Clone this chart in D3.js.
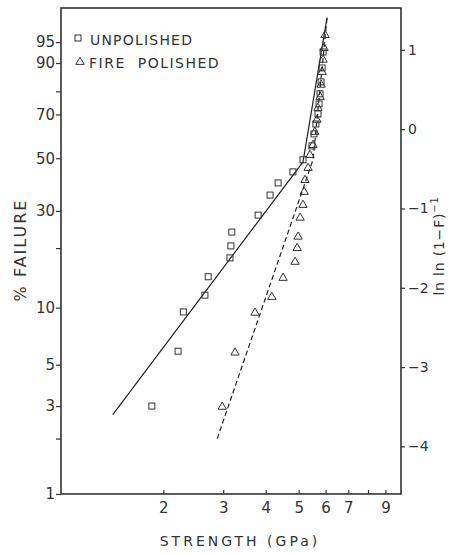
<!DOCTYPE html>
<html>
<head>
<meta charset="utf-8">
<script src="https://cdn.jsdelivr.net/npm/d3@7"></script>
<style>
    body { margin: 0; background: #fff; }
    text { font-family: "DejaVu Sans", sans-serif; fill: #333; }
    .axis line { stroke: #333; stroke-width: 1.2; }
    .axis path { display: none; }
</style>
</head>
<body>
<div id="chart-container"></div>
<script>
// data (strength in GPa, failure in %)
const unpolishedStrength = [1.85, 2.21, 2.29, 2.65, 2.71, 3.14, 3.16, 3.18, 3.80, 4.12, 4.35, 4.81, 5.15,
    5.47, 5.55, 5.62, 5.70, 5.74, 5.78, 5.82, 5.86, 5.90];
const unpolishedFailure = [3.0, 5.9, 9.5, 11.6, 14.4, 17.9, 20.5, 23.9, 28.7, 35.3, 39.8, 44.2, 49.3,
    55.5, 61.0, 65.6, 70.2, 74.7, 79.0, 83.7, 88.5, 92.9];

const firePolishedStrength = [2.98, 3.25, 3.72, 4.17, 4.50, 4.88, 4.95, 4.98, 5.05, 5.15, 5.19, 5.22, 5.33,
    5.40, 5.51, 5.58, 5.66, 5.70, 5.78, 5.82, 5.86, 5.90, 5.94, 5.98];
const firePolishedFailure = [2.97, 5.8, 9.4, 11.35, 14.2, 17.1, 20.0, 22.7, 27.9, 31.9, 36.4, 40.9, 45.8,
    51.4, 55.9, 61.9, 67.5, 72.9, 77.7, 82.6, 87.2, 90.9, 93.8, 96.2];

// fitted lines
const unpolishedFitStrength = [1.42, 5.15, 6.06];
const unpolishedFitFailure = [2.7, 48.4, 98.3];
const fireFitStrength = [2.88, 5.51, 6.06];
const fireFitFailure = [2.0, 49.3, 98.3];

// ticks
const failureTicks = [1, 2, 3, 5, 10, 20, 30, 50, 70, 80, 90, 95];
const failureLabels = [1, 3, 5, 10, 30, 50, 70, 90, 95];
const strengthTicks = [2, 3, 4, 5, 6, 7, 8, 9];
const strengthLabels = [2, 3, 4, 5, 6, 7, 9];
const lnTicks = [1, 0, -1, -2, -3, -4];

// margin convention
const svgWidth = 455,
    svgHeight = 555,
    margin = { top: 8, right: 54, bottom: 61, left: 61 },
    width = svgWidth - margin.left - margin.right,
    height = svgHeight - margin.top - margin.bottom;

// weibull transform: ln ln 1/(1-F)
const wb = (p) => Math.log(Math.log(1 / (1 - p / 100)));

let svg = d3.select("#chart-container").append("svg")
    .attr("width", svgWidth)
    .attr("height", svgHeight);
let plotGroup = svg.append("g")
    .attr("transform", `translate(${margin.left}, ${margin.top})`);

let xScale = d3.scaleLog()
    .domain([1, 10])
    .range([0, width]);
let yScale = d3.scaleLinear()
    .domain([wb(1), wb(99)])
    .range([height, 0]);

// frame
plotGroup.append("rect")
    .attr("width", width)
    .attr("height", height)
    .attr("fill", "none")
    .attr("stroke", "#333")
    .attr("stroke-width", 1.6);

// left axis: % failure
let yAxisLeft = plotGroup.append("g")
    .attr("class", "axis")
    .call(d3.axisLeft(yScale)
        .tickValues(failureTicks.map(wb))
        .tickSize(5)
        .tickFormat((d, i) => failureLabels.includes(failureTicks[i]) ? failureTicks[i] : ""));
yAxisLeft.selectAll("text")
    .attr("font-size", 15)
    .attr("x", -6);

// bottom axis: strength
let xAxis = plotGroup.append("g")
    .attr("class", "axis")
    .attr("transform", `translate(0, ${height})`)
    .call(d3.axisBottom(xScale)
        .tickValues(strengthTicks)
        .tickSize(-4)
        .tickFormat((d) => strengthLabels.includes(d) ? d : ""));
xAxis.selectAll("text")
    .attr("font-size", 15)
    .attr("y", 8);

// right axis: ln ln (1-F)^-1
let yAxisRight = plotGroup.append("g")
    .attr("class", "axis")
    .attr("transform", `translate(${width}, 0)`)
    .call(d3.axisRight(yScale)
        .tickValues(lnTicks)
        .tickSize(4)
        .tickFormat((d) => d < 0 ? "\u2212" + (-d) : d));
yAxisRight.selectAll("text")
    .attr("font-size", 14)
    .attr("x", 7);

// axis titles
svg.append("text")
    .attr("transform", `translate(26, 250) rotate(-90)`)
    .attr("text-anchor", "middle")
    .attr("font-size", 16)
    .attr("letter-spacing", 2)
    .text("% FAILURE");
let rightTitle = svg.append("text")
    .attr("transform", `translate(444, 246) rotate(-90)`)
    .attr("text-anchor", "middle")
    .attr("font-size", 14)
    .attr("letter-spacing", 0.8);
rightTitle.append("tspan").text("ln ln (1\u2212F)");
rightTitle.append("tspan").attr("dy", -6).attr("font-size", 10).text("\u22121");
svg.append("text")
    .attr("x", 240)
    .attr("y", 546)
    .attr("text-anchor", "middle")
    .attr("font-size", 14)
    .attr("letter-spacing", 3)
    .text("STRENGTH (GPa)");

// fitted lines
let line = d3.line()
    .x((d) => xScale(d[0]))
    .y((d) => yScale(wb(d[1])));
plotGroup.append("path")
    .datum(unpolishedFitStrength.map((s, i) => [s, unpolishedFitFailure[i]]))
    .attr("d", line)
    .attr("fill", "none")
    .attr("stroke", "#222")
    .attr("stroke-width", 1.2);
plotGroup.append("path")
    .datum(fireFitStrength.map((s, i) => [s, fireFitFailure[i]]))
    .attr("d", line)
    .attr("fill", "none")
    .attr("stroke", "#222")
    .attr("stroke-width", 1.2)
    .attr("stroke-dasharray", "5,3");

// markers
const sq = 6;
plotGroup.selectAll("rect.unpolished")
    .data(unpolishedStrength.map((s, i) => [s, unpolishedFailure[i]]))
    .join("rect")
    .attr("class", "unpolished")
    .attr("x", (d) => xScale(d[0]) - sq / 2)
    .attr("y", (d) => yScale(wb(d[1])) - sq / 2)
    .attr("width", sq)
    .attr("height", sq)
    .attr("fill", "none")
    .attr("stroke", "#333")
    .attr("stroke-width", 1);

let tri = d3.symbol().type(d3.symbolTriangle).size(30);
plotGroup.selectAll("path.fire")
    .data(firePolishedStrength.map((s, i) => [s, firePolishedFailure[i]]))
    .join("path")
    .attr("class", "fire")
    .attr("d", tri)
    .attr("transform", (d) => `translate(${xScale(d[0])}, ${yScale(wb(d[1]))})`)
    .attr("fill", "none")
    .attr("stroke", "#333")
    .attr("stroke-width", 1);

// legend
let legend = svg.append("g");
legend.append("rect")
    .attr("x", 75).attr("y", 35)
    .attr("width", sq).attr("height", sq)
    .attr("fill", "none").attr("stroke", "#333");
legend.append("text")
    .attr("x", 90).attr("y", 45)
    .attr("font-size", 14)
    .attr("letter-spacing", 1.2)
    .text("UNPOLISHED");
legend.append("path")
    .attr("d", tri)
    .attr("transform", "translate(80, 62)")
    .attr("fill", "none").attr("stroke", "#333");
legend.append("text")
    .attr("x", 89).attr("y", 68)
    .attr("font-size", 14)
    .attr("letter-spacing", 1.5)
    .attr("word-spacing", 6)
    .text("FIRE POLISHED");
</script>
</body>
</html>
